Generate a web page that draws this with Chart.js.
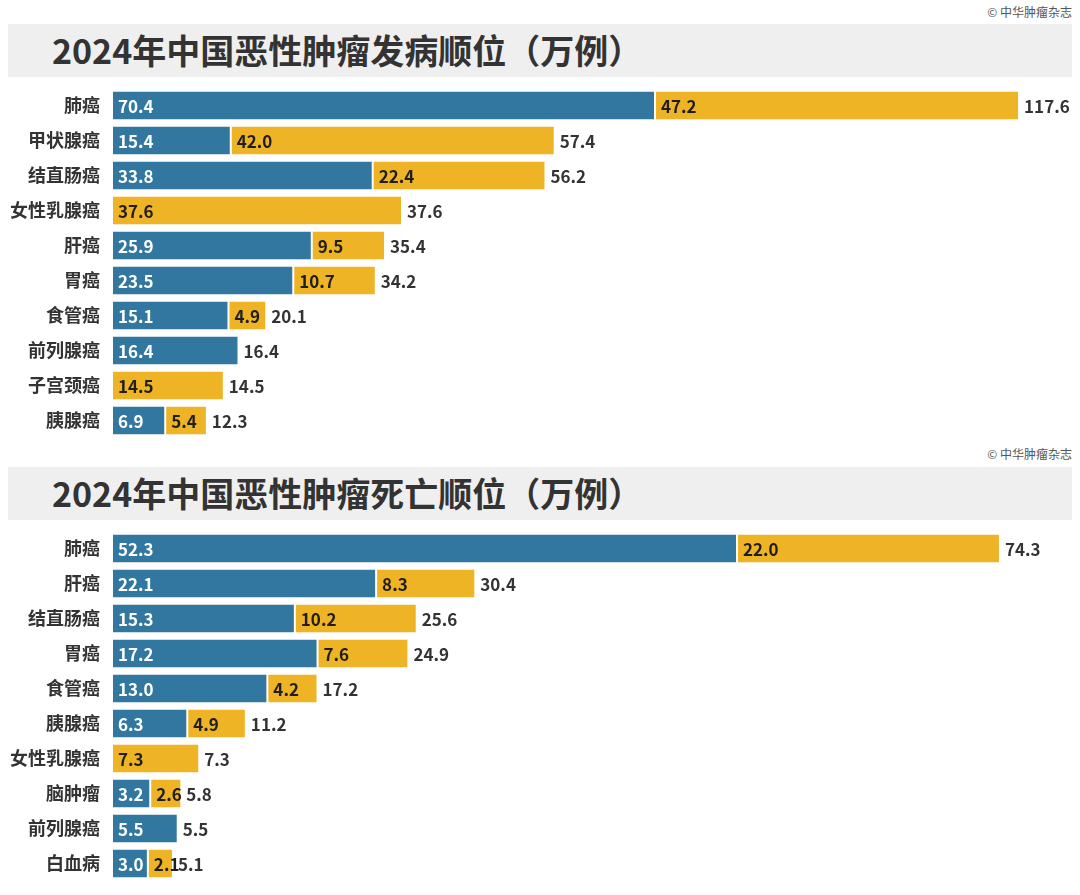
<!DOCTYPE html>
<html>
<head>
<meta charset="utf-8">
<script src="https://cdn.jsdelivr.net/npm/chart.js@4.4.1/dist/chart.umd.min.js"></script>
<style>
  body { margin: 0; background: #fff; font-family: "Noto Sans CJK SC", "Noto Sans", sans-serif; }
  #page { position: relative; width: 1080px; height: 895px; overflow: hidden; }
  .src { position: absolute; right: 8px; font-size: 12px; color: #555; }
  .band { position: absolute; left: 8px; width: 1064px; height: 53px; background: #efefef; }
  .band h1 { margin: 0; position: absolute; left: 44px; top: -1px; line-height: 53px; font-size: 34px; font-weight: bold; color: #333; }
  canvas { position: absolute; left: 0; }
</style>
</head>
<body>
<div id="page">
  <div class="src" style="top:3px">© 中华肿瘤杂志</div>
  <div class="band" style="top:24px"><h1>2024年中国恶性肿瘤发病顺位（万例）</h1></div>
  <canvas id="c1" width="1080" height="350" style="top:88px"></canvas>

  <div class="src" style="top:445px">© 中华肿瘤杂志</div>
  <div class="band" style="top:467px"><h1>2024年中国恶性肿瘤死亡顺位（万例）</h1></div>
  <canvas id="c2" width="1080" height="350" style="top:531px"></canvas>
</div>
<script>
// 发病
const cats1 = ['肺癌', '甲状腺癌', '结直肠癌', '女性乳腺癌', '肝癌', '胃癌', '食管癌', '前列腺癌', '子宫颈癌', '胰腺癌'];
const male1 = [70.4, 15.4, 33.8, 0, 25.9, 23.5, 15.1, 16.4, 0, 6.9];
const female1 = [47.2, 42.0, 22.4, 37.6, 9.5, 10.7, 4.9, 0, 14.5, 5.4];
const total1 = ['117.6', '57.4', '56.2', '37.6', '35.4', '34.2', '20.1', '16.4', '14.5', '12.3'];

// 死亡
const cats2 = ['肺癌', '肝癌', '结直肠癌', '胃癌', '食管癌', '胰腺癌', '女性乳腺癌', '脑肿瘤', '前列腺癌', '白血病'];
const male2 = [52.3, 22.1, 15.3, 17.2, 13.0, 6.3, 0, 3.2, 5.5, 3.0];
const female2 = [22.0, 8.3, 10.2, 7.6, 4.2, 4.9, 7.3, 2.6, 0, 2.1];
const total2 = ['74.3', '30.4', '25.6', '24.9', '17.2', '11.2', '7.3', '5.8', '5.5', '5.1'];

const BLUE = '#31779f';
const YELLOW = '#efb425';
const FONT = '"Noto Sans CJK SC", "Noto Sans", sans-serif';

// 柱内数值 + 柱尾合计
const barLabels = {
  id: 'barLabels',
  afterDatasetsDraw(chart, args, opts) {
    const ctx = chart.ctx;
    ctx.save();
    ctx.font = 'bold 17px ' + FONT;
    ctx.textBaseline = 'middle';
    ctx.textAlign = 'left';
    const inside = ['#ffffff', '#1e1e1e'];
    chart.data.datasets.forEach((ds, i) => {
      chart.getDatasetMeta(i).data.forEach((bar, j) => {
        if (!ds.data[j]) return;
        ctx.fillStyle = inside[i];
        ctx.fillText(ds.data[j].toFixed(1), bar.base + 6, bar.y + 1);
      });
    });
    const m0 = chart.getDatasetMeta(0).data;
    const m1 = chart.getDatasetMeta(1).data;
    ctx.fillStyle = '#333333';
    opts.totals.forEach((t, j) => {
      const end = Math.max(m0[j].x, m1[j].x);
      ctx.fillText(t, end + 5, m0[j].y + 1);
    });
    ctx.restore();
  }
};

function makeChart(id, cats, male, female, totals, xmax) {
  return new Chart(document.getElementById(id), {
    type: 'bar',
    data: {
      labels: cats,
      datasets: [
        { label: '男性', data: male, backgroundColor: BLUE },
        { label: '女性', data: female, backgroundColor: YELLOW }
      ]
    },
    options: {
      indexAxis: 'y',
      responsive: false,
      animation: false,
      devicePixelRatio: 1,
      layout: { padding: 0 },
      datasets: {
        bar: {
          barPercentage: 0.8,
          categoryPercentage: 1,
          borderColor: '#ffffff',
          borderWidth: { left: 1, right: 1, top: 0, bottom: 0 },
          borderSkipped: false
        }
      },
      scales: {
        x: { stacked: true, display: false, min: 0, max: xmax },
        y: {
          stacked: true,
          grid: { display: false, drawTicks: false },
          border: { display: false },
          ticks: { color: '#333', padding: 12, font: { family: FONT, size: 18, weight: 'bold' } },
          afterFit(scale) {
            scale.width = 112;
            scale.paddingTop = 0;
            scale.paddingBottom = 0;
          }
        }
      },
      plugins: {
        legend: { display: false },
        tooltip: { enabled: false },
        barLabels: { totals: totals }
      }
    },
    plugins: [barLabels]
  });
}

makeChart('c1', cats1, male1, female1, total1, 125.5);
makeChart('c2', cats2, male2, female2, total2, 81.0);
</script>
</body>
</html>
